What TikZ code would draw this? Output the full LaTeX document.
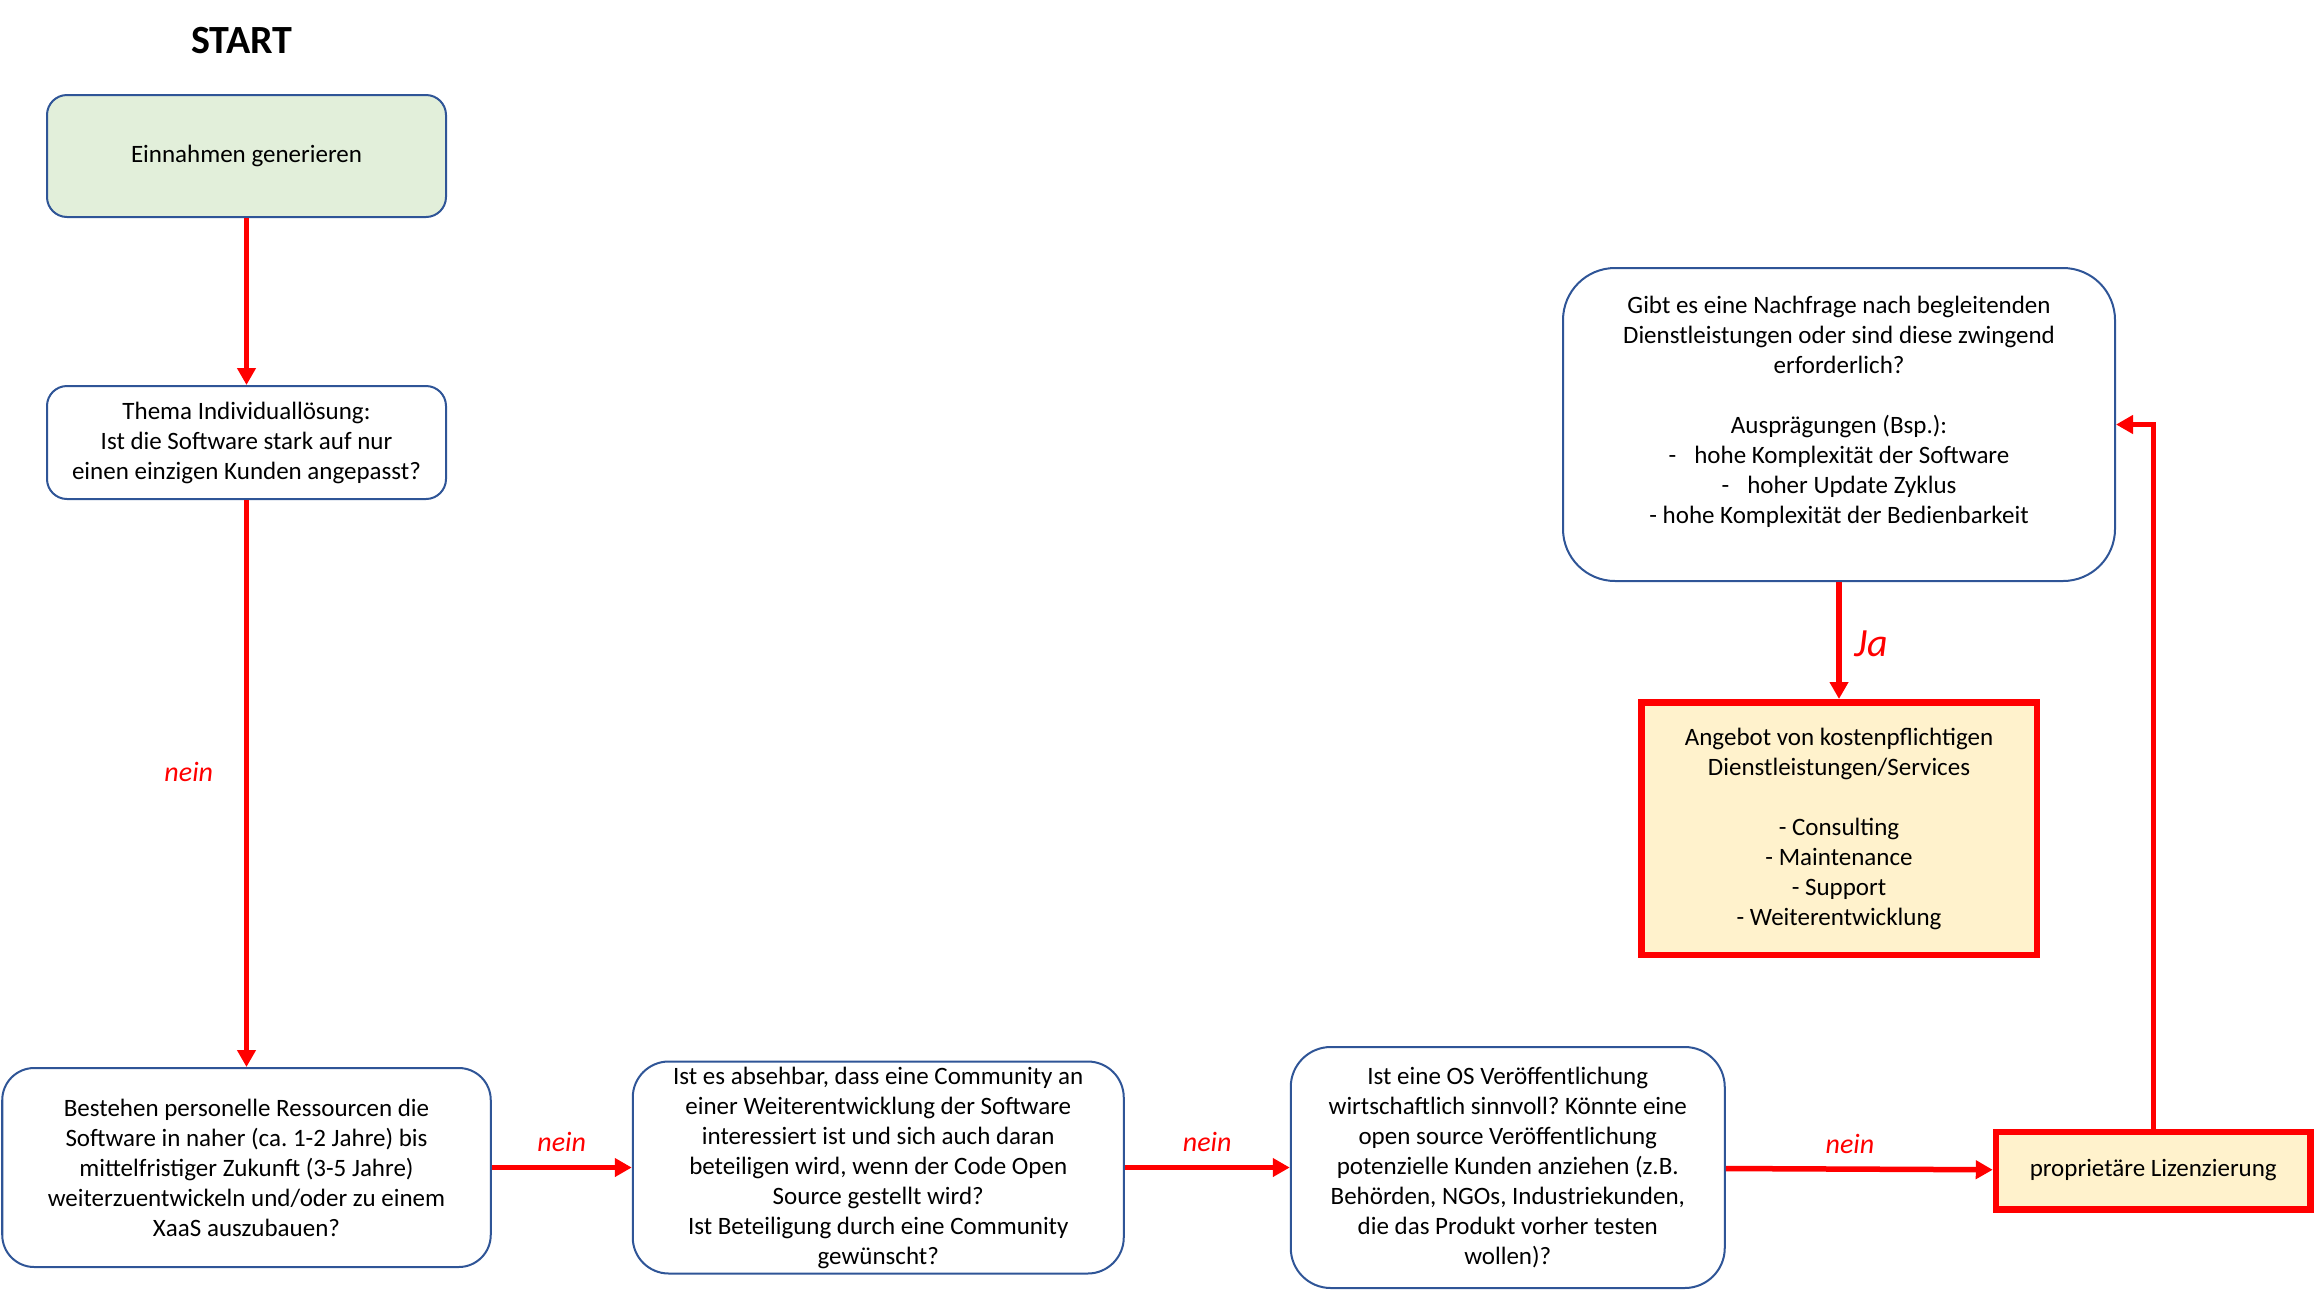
\documentclass[tikz,border=0pt]{standalone}
\usepackage{fontspec}
\setmainfont{Carlito}
\usetikzlibrary{positioning,arrows.meta}
\definecolor{rahmen}{HTML}{2F5597}
\definecolor{gruen}{HTML}{E2EFDA}
\definecolor{gelb}{HTML}{FFF2CC}
\frenchspacing

\begin{document}
\begin{tikzpicture}[
    font=\fontsize{12.5}{15}\selectfont,
    frage/.style={draw=rahmen, line width=1pt, fill=white, rounded corners=#1, align=center, inner sep=0pt},
    frage/.default=10pt,
    ergebnis/.style={draw=red, line width=3.25pt, fill=gelb, align=center, inner sep=0pt},
    pfeil/.style={draw=red, line width=2.75pt, -{Triangle[length=8.5pt,width=9pt]}},
    antwort/.style={text=red, font=\fontsize{14}{16}\selectfont\itshape},
]
    \useasboundingbox (0,0) rectangle (1158.5pt,-645.5pt);

    \node[font=\fontsize{20}{24}\selectfont\bfseries] (start) at (121pt,-20.5pt) {START};
    \node[frage, fill=gruen, minimum width=199.5pt, minimum height=61pt] (einnahmen) at (123.25pt,-78pt) {Einnahmen generieren};
    \node[frage, minimum width=199.5pt, minimum height=56.5pt, below=83.5pt of einnahmen] (individual) {Thema Individuallösung:\\Ist die Software stark auf nur\\einen einzigen Kunden angepasst?};

    % untere Reihe
    \node[frage=16pt, minimum width=244.25pt, minimum height=99.5pt, below=283.5pt of individual] (ressourcen) {Bestehen personelle Ressourcen die\\Software in naher (ca. 1-2 Jahre) bis\\mittelfristiger Zukunft (3-5 Jahre)\\weiterzuentwickeln und/oder zu einem\\XaaS auszubauen?};
    \node[frage=18pt, minimum width=245.5pt, minimum height=106pt, right=70pt of ressourcen] (community) {Ist es absehbar, dass eine Community an\\einer Weiterentwicklung der Software\\interessiert ist und sich auch daran\\beteiligen wird, wenn der Code Open\\Source gestellt wird?\\Ist Beteiligung durch eine Community\\gewünscht?};
    \node[frage=20pt, minimum width=217pt, minimum height=120.5pt, right=82.5pt of community] (oeffentlich) {Ist eine OS Veröffentlichung\\wirtschaftlich sinnvoll? Könnte eine\\open source Veröffentlichung\\potenzielle Kunden anziehen (z.B.\\Behörden, NGOs, Industriekunden,\\die das Produkt vorher testen\\wollen)?};
    \node[ergebnis, minimum width=157.25pt, minimum height=38.75pt, right=133.5pt of oeffentlich, yshift=-1.5pt] (lizenz) {proprietäre Lizenzierung};

    % rechts oben
    \node[frage=26pt, minimum width=276pt, minimum height=156.5pt] (nachfrage) at (919.5pt,-212.25pt) {Gibt es eine Nachfrage nach begleitenden\\Dienstleistungen oder sind diese zwingend\\erforderlich?\\[15pt]Ausprägungen (Bsp.):\\-\hspace{9pt}hohe Komplexität der Software\\-\hspace{9pt}hoher Update Zyklus\\- hohe Komplexität der Bedienbarkeit\\~};
    \node[ergebnis, minimum width=197.75pt, minimum height=126.25pt, below=58.5pt of nachfrage] (angebot) {Angebot von kostenpflichtigen\\Dienstleistungen/Services\\[15pt]- Consulting\\- Maintenance\\- Support\\- Weiterentwicklung};

    \draw[pfeil] (einnahmen) -- (individual);
    \draw[pfeil] (individual) -- node[antwort, left=12pt, pos=0.48] (nein1) {nein} (ressourcen);
    \draw[pfeil] (ressourcen) -- node[antwort, above=3pt] (nein2) {nein} (community);
    \draw[pfeil] (community) -- node[antwort, above=3pt] (nein3) {nein} (oeffentlich);
    \draw[pfeil] (oeffentlich) -- node[antwort, above=3pt, pos=0.465] (nein4) {nein} (lizenz);
    \draw[pfeil] (lizenz.north) |- (nachfrage.east);
    \draw[pfeil] (nachfrage) -- node[antwort, font=\fontsize{20}{24}\selectfont\itshape, right=3pt, pos=0.53] (ja) {Ja} (angebot);
\end{tikzpicture}
\end{document}
